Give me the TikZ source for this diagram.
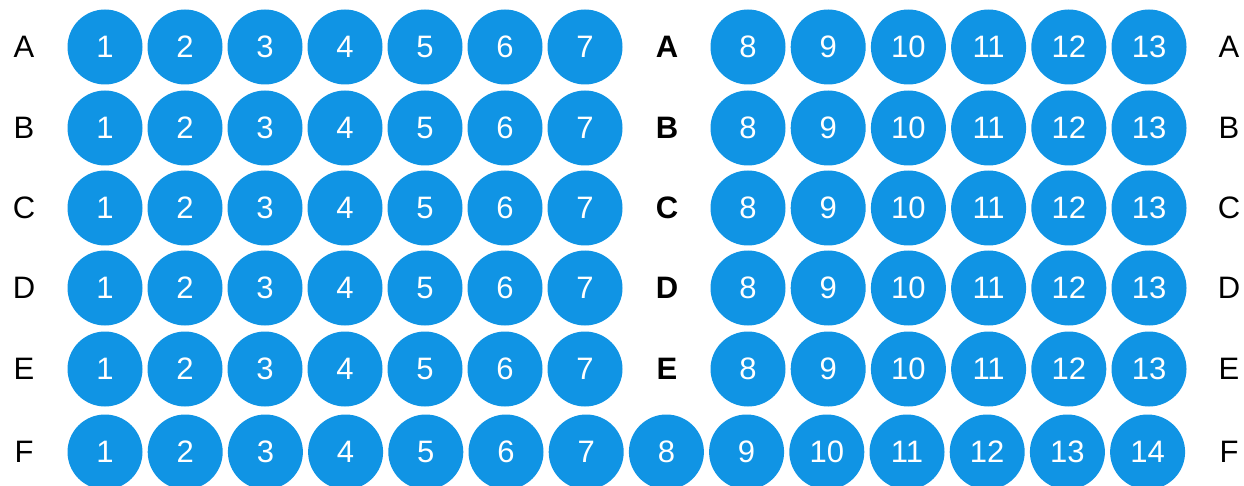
\documentclass[tikz,border=0pt]{standalone}
\usepackage{fontspec}
\setmainfont{Liberation Sans}
\definecolor{wellblue}{RGB}{16,148,228}
\begin{document}
\begin{tikzpicture}[x=1pt,y=-1pt,
  well/.style={circle,fill=wellblue,draw=none,minimum size=75pt,inner sep=0pt,
    text=white,font=\fontsize{31}{31}\selectfont},
  rowlab/.style={text=black,inner sep=0pt,font=\fontsize{31}{31}\selectfont},
  midlab/.style={text=black,inner sep=0pt,font=\fontsize{31}{31}\selectfont\bfseries}]
\useasboundingbox (0,0) rectangle (1244,486);
% upper rows A-E
\foreach \r/\y in {A/47,B/128,C/208,D/288,E/369}{
  \node[rowlab] (L\r) at (24,\y) {\r};
  \foreach \c in {1,...,7}{
    \node[well] (\r\c) at ({105+80*(\c-1)},\y) {\c};
  }
  \node[midlab] (M\r) at (667,\y) {\r};
  \foreach \c in {8,...,13}{
    \node[well] (\r\c) at ({748+80.2*(\c-8)},\y) {\c};
  }
  \node[rowlab] (R\r) at (1229,\y) {\r};
}
% row F
\node[rowlab] (LF) at (24,452) {F};
\foreach \c in {1,...,14}{
  \node[well] (F\c) at ({105+80.2*(\c-1)},452) {\c};
}
\node[rowlab] (RF) at (1229,452) {F};
\end{tikzpicture}
\end{document}
